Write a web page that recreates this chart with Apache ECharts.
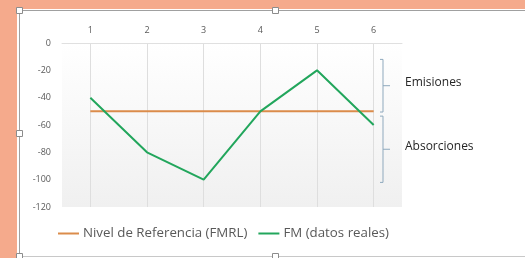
<!DOCTYPE html>
<html>
<head>
<meta charset="utf-8">
<script src="https://cdn.jsdelivr.net/npm/echarts@6/dist/echarts.min.js"></script>
<style>
  html, body { margin: 0; padding: 0; background: #fff; }
  #chart { width: 525px; height: 258px; }
</style>
</head>
<body>
<div id="chart"></div>
<script>
// datos del gráfico
const categories = ['1', '2', '3', '4', '5', '6']
const nivelReferencia = [-50, -50, -50, -50, -50, -50]
const fmReales = [-40, -80, -100, -50, -20, -60]
const yTicks = { min: -120, max: 0, step: 20 }
// rangos de las llaves a la derecha
const bracketNames = ['Emisiones', 'Absorciones']
const bracketRanges = [[-12, -50.5], [-53.5, -102]]

const chart = echarts.init(document.getElementById('chart'))
const textColor = '#595959'
const salmon = '#F5AA8C'

const option = {
  backgroundColor: '#fff',
  animation: false,
  grid: {
    left: 62, right: 123, top: 43, bottom: 51,
    show: true,
    borderWidth: 0,
    backgroundColor: new echarts.graphic.LinearGradient(0, 0, 0, 1, [
      { offset: 0, color: '#ffffff' },
      { offset: 1, color: '#f0f0f0' }
    ])
  },
  xAxis: {
    type: 'category',
    position: 'top',
    data: categories,
    boundaryGap: true,
    axisLine: { show: true, lineStyle: { color: '#e0e0e0', width: 1 } },
    axisTick: { show: false },
    axisLabel: { color: textColor, fontSize: 9, margin: 8, fontFamily: 'Open Sans' },
    splitLine: { show: true, alignWithLabel: true, lineStyle: { color: '#dedede', width: 1 } }
  },
  yAxis: {
    type: 'value',
    min: yTicks.min, max: yTicks.max, interval: yTicks.step,
    axisLine: { show: false },
    axisTick: { show: false },
    splitLine: { show: false },
    axisLabel: { color: textColor, fontSize: 9, margin: 11, fontFamily: 'Open Sans' }
  },
  legend: {
    left: 53, top: 222,
    icon: 'rect',
    itemWidth: 21, itemHeight: 2, itemGap: 11,
    textStyle: { color: textColor, fontSize: 13.3, fontFamily: 'Open Sans', padding: [0, 0, 0, -1] },
    data: ['Nivel de Referencia (FMRL)', 'FM (datos reales)']
  },
  series: [
    {
      name: 'Nivel de Referencia (FMRL)',
      type: 'line',
      data: nivelReferencia,
      symbol: 'none',
      lineStyle: { color: '#DB8C4B', width: 2 },
      itemStyle: { color: '#DB8C4B' }
    },
    {
      name: 'FM (datos reales)',
      type: 'line',
      data: fmReales,
      symbol: 'none',
      lineStyle: { color: '#22A65C', width: 2 },
      itemStyle: { color: '#22A65C' }
    }
  ]
}

chart.setOption(option)

// llaves y textos a la derecha + marco de la diapositiva
const bx = 383
const graphics = []
bracketRanges.forEach((r, i) => {
  const y1 = chart.convertToPixel({ yAxisIndex: 0 }, r[0])
  const y2 = chart.convertToPixel({ yAxisIndex: 0 }, r[1])
  const ym = (y1 + y2) / 2
  const ls = { stroke: '#8FA9BD', lineWidth: 1 }
  graphics.push(
    { type: 'polyline', shape: { points: [[bx - 3, y1], [bx, y1], [bx, y2], [bx - 3, y2]] }, style: ls, silent: true },
    { type: 'line', shape: { x1: bx, y1: ym, x2: bx + 7, y2: ym }, style: ls, silent: true },
    { type: 'text', x: 405, y: ym - 3, style: { text: bracketNames[i], fill: '#262626', font: '12px "Open Sans"', verticalAlign: 'middle' } }
  )
})

// fondo salmón y marco de selección
graphics.push(
  { type: 'rect', shape: { x: 0, y: 0, width: 525, height: 9 }, style: { fill: salmon }, silent: true },
  { type: 'rect', shape: { x: 0, y: 0, width: 17, height: 258 }, style: { fill: salmon }, silent: true },
  { type: 'line', shape: { x1: 19.5, y1: 10, x2: 19.5, y2: 258 }, style: { stroke: '#a0a0a0', lineWidth: 1 }, silent: true },
  { type: 'line', shape: { x1: 19, y1: 10.5, x2: 525, y2: 10.5 }, style: { stroke: '#a0a0a0', lineWidth: 1 }, silent: true },
  { type: 'line', shape: { x1: 19, y1: 256.5, x2: 525, y2: 256.5 }, style: { stroke: '#c8c8c8', lineWidth: 1 }, silent: true }
)
;[[19.5, 10.5], [275.5, 10.5], [19.5, 133.5], [19.5, 256.5], [275.5, 256.5]].forEach(p => {
  graphics.push({ type: 'rect', shape: { x: p[0] - 3, y: p[1] - 3, width: 6, height: 6 }, style: { fill: '#fff', stroke: '#8c8c8c', lineWidth: 1 }, silent: true })
})

chart.setOption({ graphic: graphics })
</script>
</body>
</html>
